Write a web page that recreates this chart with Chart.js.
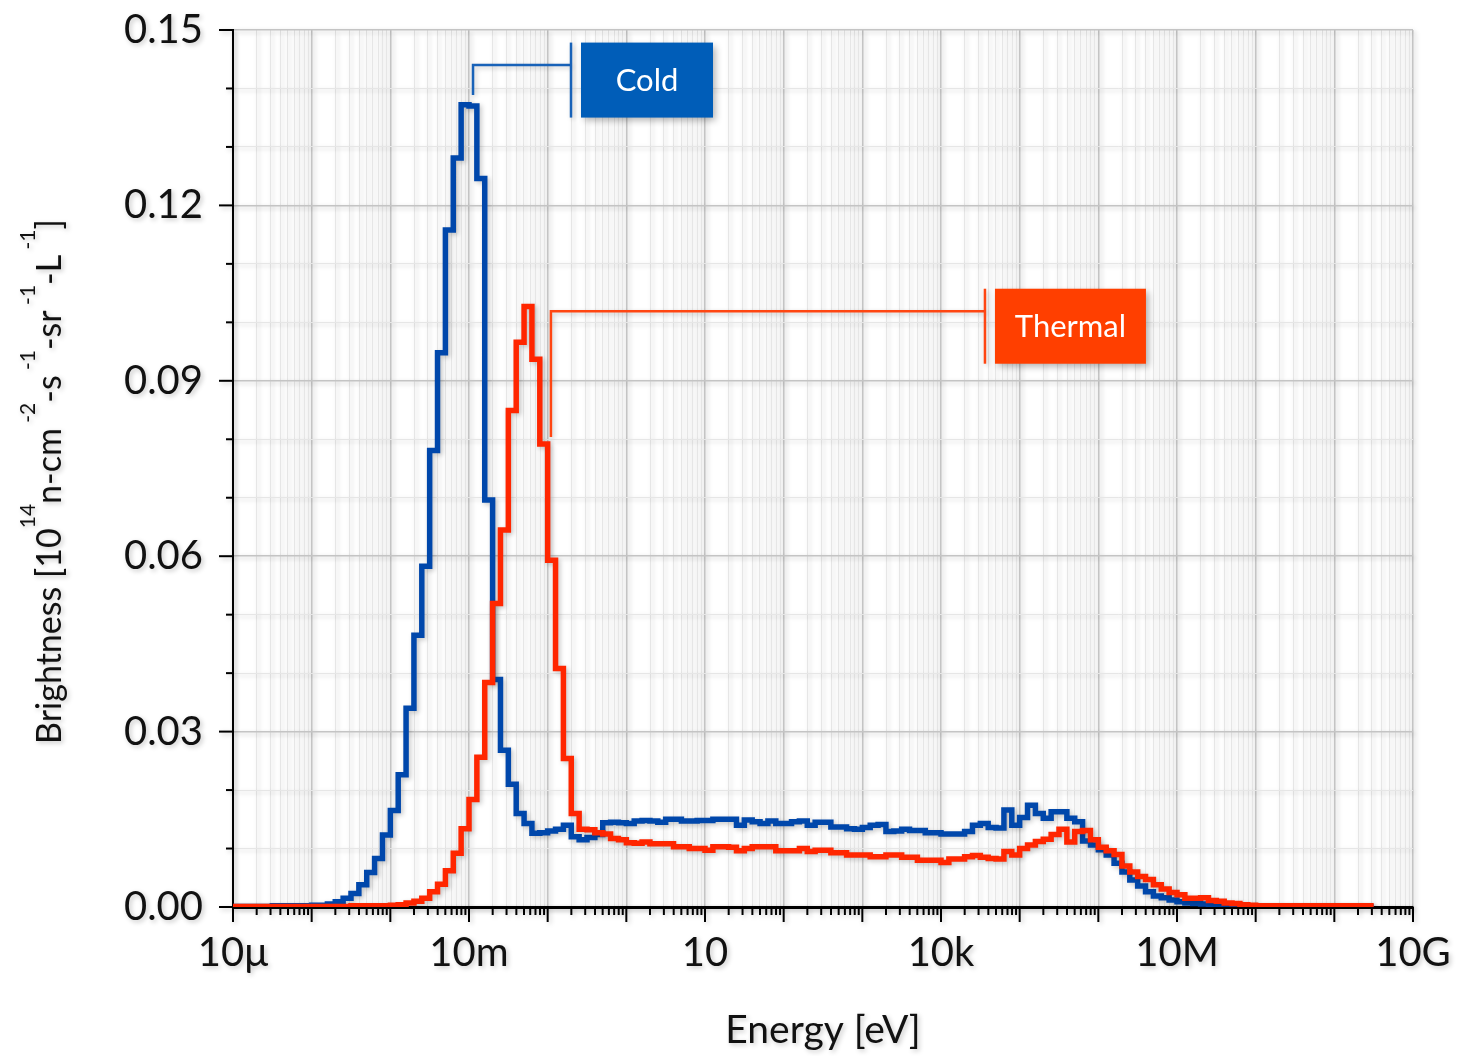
<!DOCTYPE html>
<html>
<head>
<meta charset="utf-8">
<script src="https://cdn.jsdelivr.net/npm/chart.js@4.4.1/dist/chart.umd.min.js"></script>
<style>
  html, body { margin: 0; padding: 0; background: #fff; }
  #brightness { display: block; }
</style>
</head>
<body>
<canvas id="brightness" width="1460" height="1056"></canvas>
<script>
// energy bins: 10 per decade, starting at 10 micro-eV
const firstBinLog10 = -5
const binsPerDecade = 10

// brightness per bin [1e14 n/cm2/s/sr/L], one row per decade (1e-5 eV ... 1e9 eV)
const coldBrightness = [
  0.0001, 0.0001, 0.0001, 0.0001, 0.0001, 0.0002, 0.0002, 0.0002, 0.0002, 0.0002,
  0.0003, 0.0003, 0.0005, 0.0009, 0.0015, 0.0023, 0.0038, 0.0059, 0.0083, 0.0123,
  0.0165, 0.0226, 0.0340, 0.0465, 0.0583, 0.0781, 0.0948, 0.1158, 0.1281, 0.1372,
  0.1370, 0.1246, 0.0696, 0.0389, 0.0268, 0.0210, 0.0160, 0.0143, 0.0126, 0.0127,
  0.0130, 0.0133, 0.0140, 0.0120, 0.0115, 0.0119, 0.0124, 0.0144, 0.0145, 0.0144,
  0.0143, 0.0147, 0.0148, 0.0147, 0.0145, 0.0150, 0.0150, 0.0147, 0.0147, 0.0148,
  0.0148, 0.0150, 0.0150, 0.0150, 0.0140, 0.0149, 0.0146, 0.0143, 0.0147, 0.0143,
  0.0143, 0.0146, 0.0147, 0.0140, 0.0145, 0.0145, 0.0137, 0.0137, 0.0134, 0.0133,
  0.0136, 0.0140, 0.0141, 0.0129, 0.0130, 0.0133, 0.0131, 0.0131, 0.0127, 0.0127,
  0.0125, 0.0125, 0.0125, 0.0129, 0.0140, 0.0143, 0.0136, 0.0135, 0.0166, 0.0140,
  0.0153, 0.0174, 0.0160, 0.0152, 0.0163, 0.0163, 0.0152, 0.0146, 0.0113, 0.0106,
  0.0098, 0.0089, 0.0075, 0.0060, 0.0046, 0.0036, 0.0026, 0.0019, 0.0016, 0.0012,
  0.0009, 0.0007, 0.0006, 0.0005, 0.0004, 0.0003, 0.0002, 0.0002, 0.0001, 0.0001,
  0.0001, 0.0001, 0.0001, 0.0001, 0.0001, 0.0001, 0.0001, 0.0001, 0.0001, 0.0001,
  0.0001, 0.0001, 0.0001, 0.0001, 0.0001
]

const thermalBrightness = [
  0.0001, 0.0001, 0.0001, 0.0001, 0.0001, 0.0001, 0.0001, 0.0001, 0.0001, 0.0001,
  0.0001, 0.0001, 0.0001, 0.0001, 0.0001, 0.0002, 0.0002, 0.0002, 0.0002, 0.0002,
  0.0003, 0.0004, 0.0007, 0.0010, 0.0015, 0.0026, 0.0039, 0.0062, 0.0092, 0.0134,
  0.0184, 0.0256, 0.0384, 0.0519, 0.0645, 0.0849, 0.0966, 0.1027, 0.0937, 0.0792,
  0.0593, 0.0408, 0.0254, 0.0160, 0.0133, 0.0132, 0.0127, 0.0125, 0.0117, 0.0115,
  0.0110, 0.0109, 0.0111, 0.0108, 0.0108, 0.0108, 0.0103, 0.0103, 0.0100, 0.0100,
  0.0097, 0.0103, 0.0103, 0.0102, 0.0096, 0.0100, 0.0103, 0.0103, 0.0103, 0.0096,
  0.0096, 0.0096, 0.0100, 0.0095, 0.0097, 0.0097, 0.0093, 0.0093, 0.0089, 0.0089,
  0.0089, 0.0086, 0.0086, 0.0089, 0.0089, 0.0085, 0.0085, 0.0080, 0.0080, 0.0080,
  0.0076, 0.0082, 0.0082, 0.0086, 0.0088, 0.0085, 0.0083, 0.0082, 0.0095, 0.0089,
  0.0100, 0.0106, 0.0112, 0.0116, 0.0124, 0.0133, 0.0111, 0.0129, 0.0131, 0.0115,
  0.0102, 0.0096, 0.0090, 0.0070, 0.0060, 0.0052, 0.0047, 0.0038, 0.0031, 0.0025,
  0.0021, 0.0015, 0.0015, 0.0016, 0.0011, 0.0010, 0.0007, 0.0006, 0.0004, 0.0003,
  0.0002, 0.0002, 0.0002, 0.0002, 0.0002, 0.0002, 0.0002, 0.0002, 0.0002, 0.0002,
  0.0002, 0.0002, 0.0002, 0.0002, 0.0002
]

// axis ticks
const xLabelValues = [1e-5, 1e-2, 1e1, 1e4, 1e7, 1e10]
const xLabels = ['10μ', '10m', '10', '10k', '10M', '10G']
const yLabelEvery = 3   // a label every 0.03

// callout boxes (anchors in data units)
const callouts = [
  { text: 'Cold', color: '#005db8', line: '#1862b8', tipX: 0.01125, tipY: 0.1389, lineY: 0.1440, barX: 0.198, boxW: 132 },
  { text: 'Thermal', color: '#ff3f00', line: '#ff4612', tipX: 0.110, tipY: 0.0804, lineY: 0.1019, barX: 36200, boxW: 151 }
]

const fontFamily = 'Lato, "Open Sans", sans-serif'

const binEdges = []
for (let i = 0; i <= coldBrightness.length; i++) {
    binEdges.push(Math.pow(10, firstBinLog10 + i / binsPerDecade))
}

// minor + major positions of the log axis: 1..9 x 10^n
const xTickValues = []
for (let d = -5; d < 10; d++) {
    for (let m = 1; m < 10; m++) xTickValues.push(m * Math.pow(10, d))
}
xTickValues.push(1e10)

function isDecade(v) {
    const l = Math.log10(v)
    return Math.abs(l - Math.round(l)) < 1e-9
}

function labelFor(v) {
    const i = xLabelValues.findIndex(lv => Math.abs(Math.log10(lv) - Math.log10(v)) < 1e-9)
    return i >= 0 ? xLabels[i] : ''
}

function yMajor(v) {
    return Math.round(v * 100) % yLabelEvery === 0
}

function histogram(values) {
    const pts = values.map((v, i) => ({ x: binEdges[i], y: v }))
    pts.push({ x: binEdges[values.length], y: values[values.length - 1] })
    return pts
}

// y title with superscripts
const yTitleParts = [
    ['Brightness [10', false], ['14', true], ['n-cm', false], [' -2', true],
    ['-s', false], [' -1', true], ['-sr', false], [' -1', true],
    ['-L', false], [' -1', true], [']', false]
]

const extras = {
    id: 'extras',
    beforeDraw(chart) {
        const ctx = chart.ctx
        ctx.save()
        ctx.shadowColor = 'rgba(0,0,0,0.22)'
        ctx.shadowBlur = 5
        ctx.shadowOffsetX = 2
        ctx.shadowOffsetY = 2
    },
    afterDraw(chart) {
        const ctx = chart.ctx
        const xs = chart.scales.x
        const ys = chart.scales.y

        // tick marks
        ctx.strokeStyle = '#000'
        ctx.lineWidth = 2
        xTickValues.forEach(v => {
            const px = xs.getPixelForValue(v)
            ctx.beginPath()
            ctx.moveTo(px, xs.top)
            ctx.lineTo(px, xs.top + (isDecade(v) ? 15 : 8))
            ctx.stroke()
        })
        ys.ticks.forEach(t => {
            const py = ys.getPixelForValue(t.value)
            ctx.beginPath()
            ctx.moveTo(ys.right, py)
            ctx.lineTo(ys.right - (yMajor(t.value) ? 14 : 7), py)
            ctx.stroke()
        })

        // callouts
        callouts.forEach(c => {
            const tx = xs.getPixelForValue(c.tipX)
            const ty = ys.getPixelForValue(c.tipY)
            const ly = ys.getPixelForValue(c.lineY)
            const bx = xs.getPixelForValue(c.barX)
            const boxH = 75
            const top = ly + 15 - boxH / 2
            ctx.strokeStyle = c.line
            ctx.lineWidth = 2.5
            ctx.beginPath()
            ctx.moveTo(tx, ty)
            ctx.lineTo(tx, ly)
            ctx.lineTo(bx, ly)
            ctx.stroke()
            ctx.beginPath()
            ctx.moveTo(bx, top)
            ctx.lineTo(bx, top + boxH)
            ctx.stroke()
            ctx.fillStyle = c.color
            ctx.shadowColor = 'rgba(0,0,0,0.3)'
            ctx.shadowBlur = 7
            ctx.shadowOffsetX = 3
            ctx.shadowOffsetY = 3
            ctx.fillRect(bx + 10, top, c.boxW, boxH)
            ctx.shadowColor = 'rgba(0,0,0,0)'
            ctx.fillStyle = '#fff'
            ctx.font = '31px ' + fontFamily
            ctx.textAlign = 'center'
            ctx.textBaseline = 'middle'
            ctx.fillText(c.text, bx + 10 + c.boxW / 2, top + boxH / 2 + 1)
            ctx.shadowColor = 'rgba(0,0,0,0.22)'
            ctx.shadowBlur = 5
            ctx.shadowOffsetX = 2
            ctx.shadowOffsetY = 2
        })

        // y axis title
        const big = '34px ' + fontFamily
        const small = '21px ' + fontFamily
        let total = 0
        yTitleParts.forEach(([s, sup]) => {
            ctx.font = sup ? small : big
            total += ctx.measureText(s).width
        })
        ctx.save()
        ctx.translate(61, (ys.top + ys.bottom) / 2 + 13)
        ctx.rotate(-Math.PI / 2)
        ctx.fillStyle = '#111'
        ctx.textAlign = 'left'
        ctx.textBaseline = 'alphabetic'
        let x = -total / 2
        yTitleParts.forEach(([s, sup]) => {
            ctx.font = sup ? small : big
            ctx.fillText(s, x, sup ? -26 : 0)
            x += ctx.measureText(s).width
        })
        ctx.restore()

        ctx.restore()
    }
}

const graph = document.querySelector('#brightness')

const config = {
    type: 'line',
    data: {
        datasets: [
            {
                label: 'Thermal',
                data: histogram(thermalBrightness),
                borderColor: '#ff2600',
                borderWidth: 5.5,
                stepped: 'before',
                pointRadius: 0,
                fill: false,
                order: 1
            },
            {
                label: 'Cold',
                data: histogram(coldBrightness),
                borderColor: '#0047ab',
                borderWidth: 5.5,
                stepped: 'before',
                pointRadius: 0,
                fill: false,
                order: 2
            }
        ]
    },
    options: {
        responsive: false,
        animation: false,
        devicePixelRatio: 1,
        layout: { padding: { top: 30, right: 47, left: 0, bottom: 0 } },
        plugins: {
            legend: { display: false },
            tooltip: { enabled: false }
        },
        scales: {
            x: {
                type: 'logarithmic',
                min: 1e-5,
                max: 1e10,
                afterBuildTicks: scale => {
                    scale.ticks = xTickValues.map(v => ({ value: v, major: isDecade(v) }))
                },
                afterFit: scale => {
                    scale.height = 149
                    scale.paddingLeft = 0
                    scale.paddingRight = 0
                },
                ticks: {
                    autoSkip: false,
                    maxRotation: 0,
                    padding: 22,
                    color: '#111',
                    font: { family: fontFamily, size: 40 },
                    callback: v => labelFor(v)
                },
                grid: {
                    drawTicks: false,
                    color: c => (c.tick && isDecade(c.tick.value)) ? '#c4c4c4' : '#e6e6e6',
                    lineWidth: c => (c.tick && isDecade(c.tick.value)) ? 1.5 : 1
                },
                border: { color: '#000', width: 3 },
                title: {
                    display: true,
                    text: 'Energy [eV]',
                    color: '#111',
                    font: { family: fontFamily, size: 39 },
                    padding: { top: 0, bottom: 2 }
                }
            },
            y: {
                min: 0,
                max: 0.15,
                afterFit: scale => {
                    scale.width = 233
                    scale.paddingTop = 0
                    scale.paddingBottom = 0
                },
                ticks: {
                    stepSize: 0.01,
                    padding: 30,
                    color: '#111',
                    font: { family: fontFamily, size: 40 },
                    callback: v => yMajor(v) ? v.toFixed(2) : ''
                },
                grid: {
                    drawTicks: false,
                    color: c => (c.tick && yMajor(c.tick.value)) ? '#c4c4c4' : '#e6e6e6',
                    lineWidth: c => (c.tick && yMajor(c.tick.value)) ? 1.5 : 1
                },
                border: { color: '#000', width: 2 }
            }
        }
    },
    plugins: [extras]
}

new Chart(graph, config)
</script>
</body>
</html>
